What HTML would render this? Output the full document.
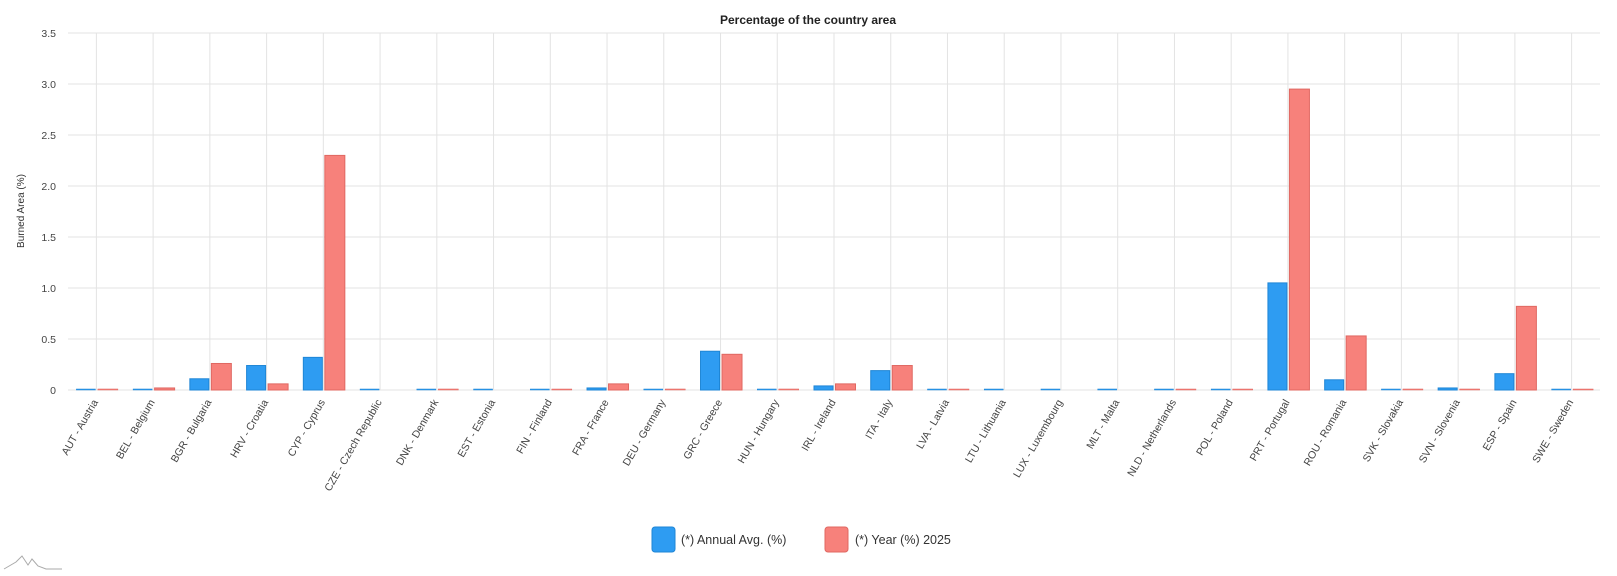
<!DOCTYPE html>
<html><head><meta charset="utf-8"><style>
body{margin:0;background:#fff;}
svg{display:block;font-family:"Liberation Sans",sans-serif;}
</style></head><body>
<svg width="1617" height="576" viewBox="0 0 1617 576" xmlns="http://www.w3.org/2000/svg">
<text x="808" y="24" text-anchor="middle" font-size="12" font-weight="bold" fill="#222">Percentage of the country area</text>
<text transform="translate(24,211) rotate(-90)" text-anchor="middle" font-size="10" fill="#333">Burned Area (%)</text>
<g id="g"></g>
</svg>
<script>
var s=document.querySelector('svg'),g=document.getElementById('g'),NS="http://www.w3.org/2000/svg";
function el(t,a,txt){var e=document.createElementNS(NS,t);for(var k in a)e.setAttribute(k,a[k]);if(txt!==undefined)e.textContent=txt;g.appendChild(e);return e;}
var L=68,R=1600,Y0=390,PU=102;
for(var i=0;i<=7;i++){var v=i*0.5,y=Y0-v*PU;
el('line',{x1:L,x2:R,y1:y,y2:y,stroke:'#e3e3e3','stroke-width':1});
el('text',{x:56,y:y+4,'text-anchor':'end','font-size':'10.5',fill:'#444'},i==0?'0':v.toFixed(1));}
var d=[["AUT - Austria",.005,.01],["BEL - Belgium",.01,.02],["BGR - Bulgaria",.11,.26],["HRV - Croatia",.24,.06],["CYP - Cyprus",.32,2.3],["CZE - Czech Republic",.005,0],["DNK - Denmark",.005,.01],["EST - Estonia",.005,0],["FIN - Finland",.005,.005],["FRA - France",.02,.06],["DEU - Germany",.005,.01],["GRC - Greece",.38,.35],["HUN - Hungary",.01,.01],["IRL - Ireland",.04,.06],["ITA - Italy",.19,.24],["LVA - Latvia",.005,.005],["LTU - Lithuania",.005,0],["LUX - Luxembourg",.005,0],["MLT - Malta",.01,0],["NLD - Netherlands",.005,.005],["POL - Poland",.005,.005],["PRT - Portugal",1.05,2.95],["ROU - Romania",.1,.53],["SVK - Slovakia",.005,.01],["SVN - Slovenia",.02,.01],["ESP - Spain",.16,.82],["SWE - Sweden",.005,.005]];
var W=(R-L)/27;
d.forEach(function(r,i){var c=L+W*(i+0.5);
el('line',{x1:c,x2:c,y1:33,y2:Y0,stroke:'#e3e3e3','stroke-width':1});
var hb=Math.max(r[1]*PU,1),hr=r[2]*PU;
el('rect',{x:c-20,y:Y0-hb,width:19,height:hb,fill:'#2E9CF2',stroke:'#1f86d6','stroke-width':hb<2?0.5:1});
if(hr>0)el('rect',{x:c+1.5,y:Y0-Math.max(hr,1),width:20,height:Math.max(hr,1),fill:'#F7817B',stroke:'#e06862','stroke-width':hr<2?0.5:1});
el('text',{transform:'translate('+(c+2)+',402) rotate(-60)','text-anchor':'end','font-size':'10.5',fill:'#444'},r[0]);
});
el('rect',{x:652,y:527,width:23,height:25,rx:3,fill:'#2E9CF2',stroke:'#1f86d6'});
el('text',{x:681,y:544,'font-size':'12.5',fill:'#333'},'(*) Annual Avg. (%)');
el('rect',{x:825,y:527,width:23,height:25,rx:3,fill:'#F7817B',stroke:'#e06862'});
el('text',{x:855,y:544,'font-size':'12.5',fill:'#333'},'(*) Year (%) 2025');
el('polyline',{points:'4,569 16,562 22,556 28,565 32,559 38,566 46,569 62,569',fill:'none',stroke:'#aaa','stroke-width':1});
</script>
</body></html>
